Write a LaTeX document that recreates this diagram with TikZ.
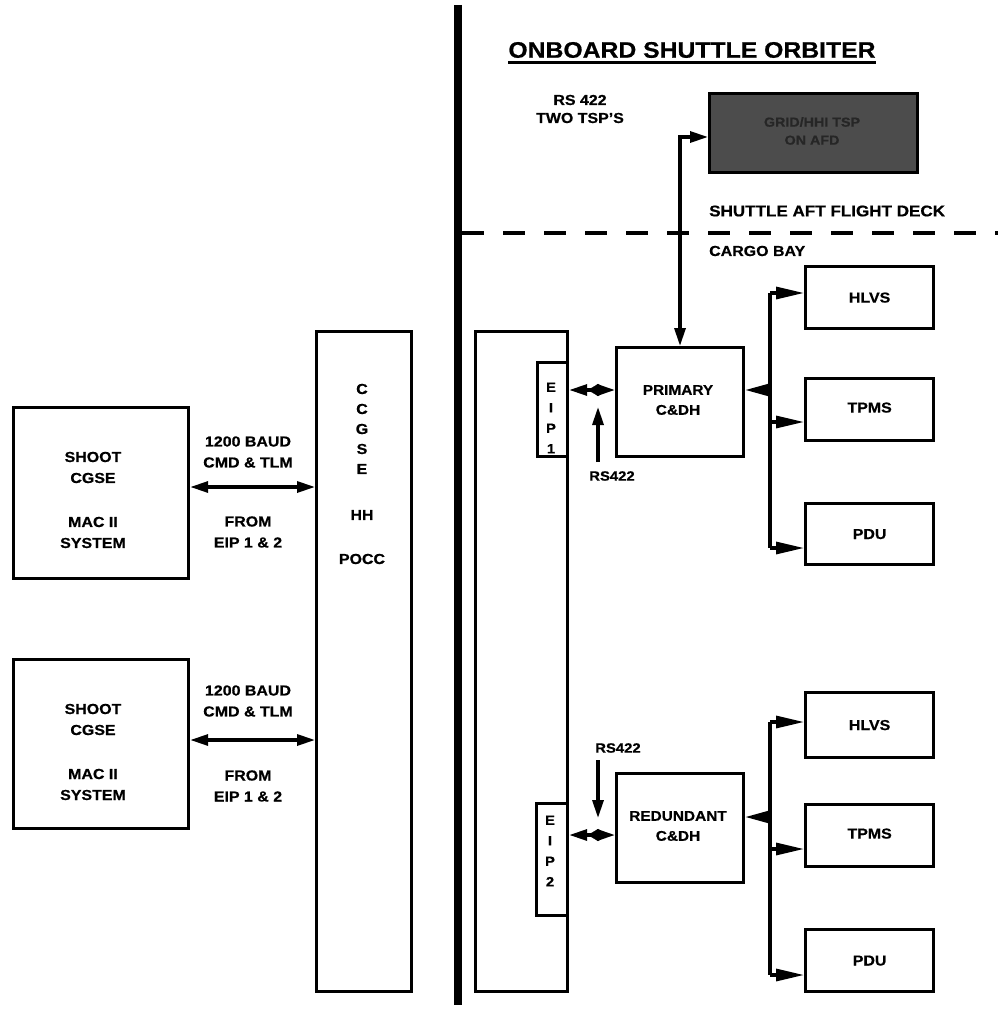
\documentclass[tikz,border=0pt]{standalone}
\usepackage{fontspec}
\setmainfont{Liberation Sans}[FakeStretch=1.1, BoldFeatures={FakeBold=0.6}]
\usetikzlibrary{arrows.meta,calc}
\tikzset{
  bx/.style={draw, line width=3.2pt, inner sep=0pt, anchor=north west},
  txt/.style={align=center, inner sep=0pt, font=\bfseries\fontsize{14.5}{21}\selectfont},
  smalltxt/.style={align=center, inner sep=0pt, font=\bfseries\fontsize{13.5}{20.5}\selectfont},
  conn/.style={line width=3.2pt, {Triangle[length=18pt,width=11pt]}-{Triangle[length=18pt,width=11pt]}},
  oneway/.style={line width=3.2pt, -{Triangle[length=18pt,width=11pt]}},
  busarrow/.style={line width=3.2pt, -{Triangle[length=28pt,width=12pt]}},
  midtip/.style={line width=0.1pt, {Triangle[length=10pt,width=12pt]}-{Triangle[length=10pt,width=12pt]}},
}
\begin{document}
\begin{tikzpicture}[x=1pt,y=-1pt]
\useasboundingbox (0,0) rectangle (998,1011);
\fill[white] (0,0) rectangle (998,1011);

% divider
\coordinate (dtop) at (458,5);
\coordinate (dbot) at (458,1005);
\draw[line width=8pt] (dtop) -- (dbot);

% ---------- ground side ----------
\node[bx, minimum width=95pt, minimum height=660pt] (ccgse) at (315,330) {};
\node[txt] (ccgsetxt) at (362,474) {C\\[-1pt]C\\[-1pt]G\\[-1pt]S\\[-1pt]E\\[25pt]HH\\[23pt]POCC};

\node[bx, minimum width=175pt, minimum height=171pt] (shoot1) at (12,406) {};
\node[txt] (shoot1txt) at (93,500) {SHOOT\\CGSE\\[23pt]MAC II\\SYSTEM};
\node[bx, minimum width=175pt, minimum height=169pt] (shoot2) at (12,658) {};
\node[txt] (shoot2txt) at (93,752) {SHOOT\\CGSE\\[23pt]MAC II\\SYSTEM};

\coordinate (a1) at (187,487);
\coordinate (a2) at (187,740);
\draw[conn] (a1 -| shoot1.east) -- (a1 -| ccgse.west);
\draw[conn] (a2 -| shoot2.east) -- (a2 -| ccgse.west);
\node[txt] (lab1a) at (248,452) {1200 BAUD\\CMD \& TLM};
\node[txt] (lab1b) at (248,532) {FROM\\EIP 1 \& 2};
\node[txt] (lab2a) at (248,701) {1200 BAUD\\CMD \& TLM};
\node[txt] (lab2b) at (248,786) {FROM\\EIP 1 \& 2};

% ---------- onboard ----------
\node[inner sep=0pt, font=\bfseries\fontsize{22.5}{24}\selectfont] (title) at (692,50) {ONBOARD SHUTTLE ORBITER};
\draw[line width=3pt] ([yshift=-5pt]title.base west) -- ([yshift=-5pt]title.base east);

\node[txt, font=\bfseries\fontsize{14.5}{18}\selectfont] (tsp) at (580,109) {RS 422\\TWO TSP'S};

\node[bx, fill=black!70, minimum width=208pt, minimum height=79pt] (tss) at (708,92) {};
\node[txt, text=black!85, font=\bfseries\fontsize{13}{18}\selectfont] (tsstxt) at (812,131) {GRID/HHI TSP\\ON AFD};

\node[anchor=west, inner sep=0pt, font=\bfseries\fontsize{15.5}{18}\selectfont] (aft) at (709,211) {SHUTTLE AFT FLIGHT DECK};
\coordinate (dl) at (462,233);
\coordinate (dr) at (998,233);
\draw[line width=3.2pt, dash pattern=on 22pt off 19pt] (dl) -- (dr);
\node[anchor=west, inner sep=0pt, font=\bfseries\fontsize{14.5}{18}\selectfont] (cargo) at (709,251) {CARGO BAY};

% container
\node[bx, minimum width=92pt, minimum height=660pt] (cont) at (474,330) {};

% primary chain
\node[bx, fill=white, minimum width=30pt, minimum height=94pt] (eip1) at (536,361) {};
\node[smalltxt] (eip1txt) at (551,418) {E\\I\\P\\1};
\node[bx, minimum width=127pt, minimum height=109pt] (primary) at (615,346) {};
\node[smalltxt, font=\bfseries\fontsize{14}{20}\selectfont] (primtxt) at (678,400) {PRIMARY\\C\&DH};

\coordinate (j1) at (598,390);
\draw[conn] (j1 -| eip1.east) -- (j1 -| primary.west);
\draw[midtip] ($(j1)+(-10,0)$) -- ($(j1)+(10,0)$);
\coordinate (r1) at (598,462);
\draw[oneway] (r1) -- (598,407);
\node[smalltxt] (rs1) at (612,476) {RS422};

\coordinate (tc) at (680,137);
\draw[conn] (tc -| tss.west) -- (tc) -- (tc |- primary.north);

\node[bx, minimum width=128pt, minimum height=62pt] (hlvs1) at (804,265) {};
\node[txt] at (hlvs1.center) {HLVS};
\node[bx, minimum width=128pt, minimum height=62pt] (tpms1) at (804,377) {};
\node[txt] at ($(tpms1.center)+(0,-2)$) {TPMS};
\node[bx, minimum width=128pt, minimum height=61pt] (pdu1) at (804,502) {};
\node[txt] at (pdu1.center) {PDU};

\coordinate (b1t) at (770,293);
\coordinate (b1m) at (770,390);
\coordinate (b1p) at (770,422);
\coordinate (b1b) at (770,548);
\draw[line width=3.5pt] (b1t) -- (b1b);
\draw[busarrow] (b1t) -- (b1t -| hlvs1.west);
\draw[busarrow] (b1p) -- (b1p -| tpms1.west);
\draw[busarrow] (b1b) -- (b1b -| pdu1.west);
\draw[oneway, -{Triangle[length=24pt,width=12pt]}] (b1m) -- (b1m -| primary.east);

% redundant chain
\node[bx, fill=white, minimum width=31pt, minimum height=112pt] (eip2) at (535,802) {};
\node[smalltxt] (eip2txt) at (550,851) {E\\I\\P\\2};
\node[bx, minimum width=127pt, minimum height=109pt] (redund) at (615,772) {};
\node[smalltxt, font=\bfseries\fontsize{14}{20}\selectfont] (redtxt) at (678,826) {REDUNDANT\\C\&DH};

\coordinate (j2) at (598,835);
\draw[conn] (j2 -| eip2.east) -- (j2 -| redund.west);
\draw[midtip] ($(j2)+(-10,0)$) -- ($(j2)+(10,0)$);
\coordinate (r2) at (598,760);
\draw[oneway] (r2) -- (598,818);
\node[smalltxt] (rs2) at (618,748) {RS422};

\node[bx, minimum width=128pt, minimum height=65pt] (hlvs2) at (804,691) {};
\node[txt] at (hlvs2.center) {HLVS};
\node[bx, minimum width=128pt, minimum height=62pt] (tpms2) at (804,803) {};
\node[txt] at ($(tpms2.center)+(0,-2)$) {TPMS};
\node[bx, minimum width=128pt, minimum height=62pt] (pdu2) at (804,928) {};
\node[txt] at (pdu2.center) {PDU};

\coordinate (b2t) at (770,722);
\coordinate (b2m) at (770,817);
\coordinate (b2p) at (770,849);
\coordinate (b2b) at (770,975);
\draw[line width=3.5pt] (b2t) -- (b2b);
\draw[busarrow] (b2t) -- (b2t -| hlvs2.west);
\draw[busarrow] (b2p) -- (b2p -| tpms2.west);
\draw[busarrow] (b2b) -- (b2b -| pdu2.west);
\draw[oneway, -{Triangle[length=24pt,width=12pt]}] (b2m) -- (b2m -| redund.east);
\end{tikzpicture}
\end{document}
